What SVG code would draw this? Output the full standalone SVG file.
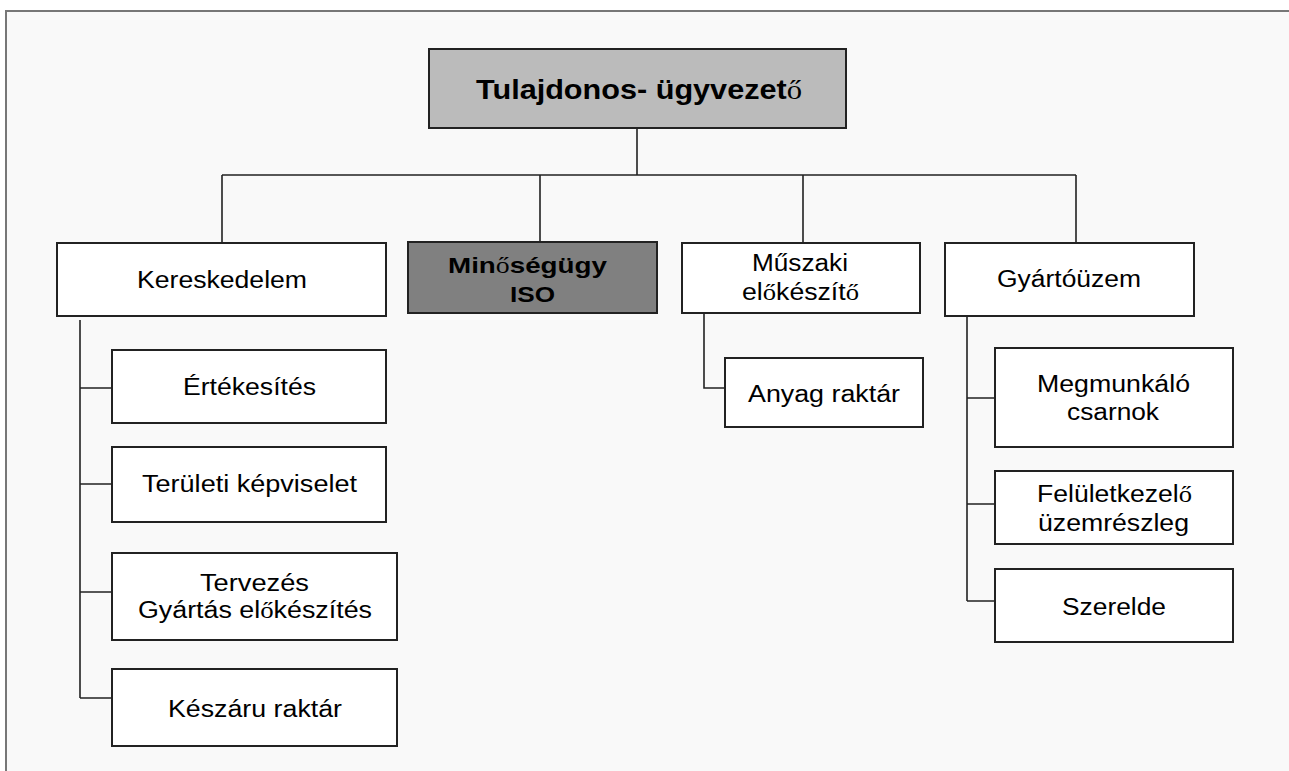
<svg xmlns="http://www.w3.org/2000/svg" width="1289" height="771" viewBox="0 0 1289 771">
<style>
.box{stroke:#222;stroke-width:2;fill:#fff}
.top{fill:#bbbbbb}
.dark{fill:#808080}
.con{stroke:#222;stroke-width:1.6;fill:none}
text{font-family:"Liberation Sans",Arial,sans-serif;font-size:23.5px;fill:#000}
.b{font-weight:bold}
.s{font-family:"Liberation Serif","Times New Roman",serif;font-weight:normal}
</style>
<rect x="0" y="0" width="1289" height="771" fill="#ffffff"/>
<rect x="6" y="11" width="1283" height="760" fill="#f9f9f9"/>
<path d="M6 771V11H1289" stroke="#777" stroke-width="2" fill="none"/>
<g id="connectors">
<path class="con" d="M637 128V175M222 175H1076M222 175V243M540 175V242M803 175V242M1076 175V243"/>
<path class="con" d="M80 320V698M80 388H112M80 484H112M80 592H112M80 698H112"/>
<path class="con" d="M704 313V388H725"/>
<path class="con" d="M967 316V601M967 398H995M967 504H995M967 601H995"/>
</g>
<g id="n-top"><rect class="box top" x="429" y="49" width="417" height="79"/>
<text class="b" x="476" y="99" style="font-size:27px" textLength="326" lengthAdjust="spacingAndGlyphs">Tulajdonos- ügyvezet<tspan class="s">ő</tspan></text></g>
<g id="n-keresk"><rect class="box" x="57" y="243" width="329" height="73"/>
<text x="137" y="288" textLength="170" lengthAdjust="spacingAndGlyphs">Kereskedelem</text></g>
<g id="n-minoseg"><rect class="box dark" x="408" y="242" width="249" height="71"/>
<text class="b" x="448" y="273" style="font-size:22.5px" textLength="159" lengthAdjust="spacingAndGlyphs">Min<tspan class="s">ő</tspan>ségügy</text>
<text class="b" x="510" y="302" style="font-size:22.5px" textLength="45" lengthAdjust="spacingAndGlyphs">ISO</text></g>
<g id="n-muszaki"><rect class="box" x="682" y="243" width="238" height="70"/>
<text x="752" y="271" textLength="96" lengthAdjust="spacingAndGlyphs">Műszaki</text>
<text x="742" y="300" textLength="117" lengthAdjust="spacingAndGlyphs">el<tspan class="s">ő</tspan>készít<tspan class="s">ő</tspan></text></g>
<g id="n-gyarto"><rect class="box" x="945" y="243" width="249" height="73"/>
<text x="997" y="287" textLength="144" lengthAdjust="spacingAndGlyphs">Gyártóüzem</text></g>
<g id="n-ertek"><rect class="box" x="112" y="350" width="274" height="73"/>
<text x="183" y="395" textLength="133" lengthAdjust="spacingAndGlyphs">Értékesítés</text></g>
<g id="n-terul"><rect class="box" x="112" y="447" width="274" height="75"/>
<text x="142" y="492" textLength="215" lengthAdjust="spacingAndGlyphs">Területi képviselet</text></g>
<g id="n-terv"><rect class="box" x="112" y="553" width="285" height="87"/>
<text x="200" y="591" textLength="109" lengthAdjust="spacingAndGlyphs">Tervezés</text>
<text x="138" y="618" textLength="234" lengthAdjust="spacingAndGlyphs">Gyártás el<tspan class="s">ő</tspan>készítés</text></g>
<g id="n-keszaru"><rect class="box" x="112" y="669" width="285" height="77"/>
<text x="168" y="717" textLength="174" lengthAdjust="spacingAndGlyphs">Készáru raktár</text></g>
<g id="n-anyag"><rect class="box" x="725" y="358" width="198" height="69"/>
<text x="748" y="402" textLength="152" lengthAdjust="spacingAndGlyphs">Anyag raktár</text></g>
<g id="n-megm"><rect class="box" x="995" y="348" width="238" height="99"/>
<text x="1037" y="392" textLength="153" lengthAdjust="spacingAndGlyphs">Megmunkáló</text>
<text x="1067" y="420" textLength="92" lengthAdjust="spacingAndGlyphs">csarnok</text></g>
<g id="n-felulet"><rect class="box" x="995" y="471" width="238" height="73"/>
<text x="1037" y="502" textLength="155" lengthAdjust="spacingAndGlyphs">Felületkezel<tspan class="s">ő</tspan></text>
<text x="1038" y="531" textLength="151" lengthAdjust="spacingAndGlyphs">üzemrészleg</text></g>
<g id="n-szerelde"><rect class="box" x="995" y="569" width="238" height="73"/>
<text x="1062" y="615" textLength="104" lengthAdjust="spacingAndGlyphs">Szerelde</text></g>
</svg>
